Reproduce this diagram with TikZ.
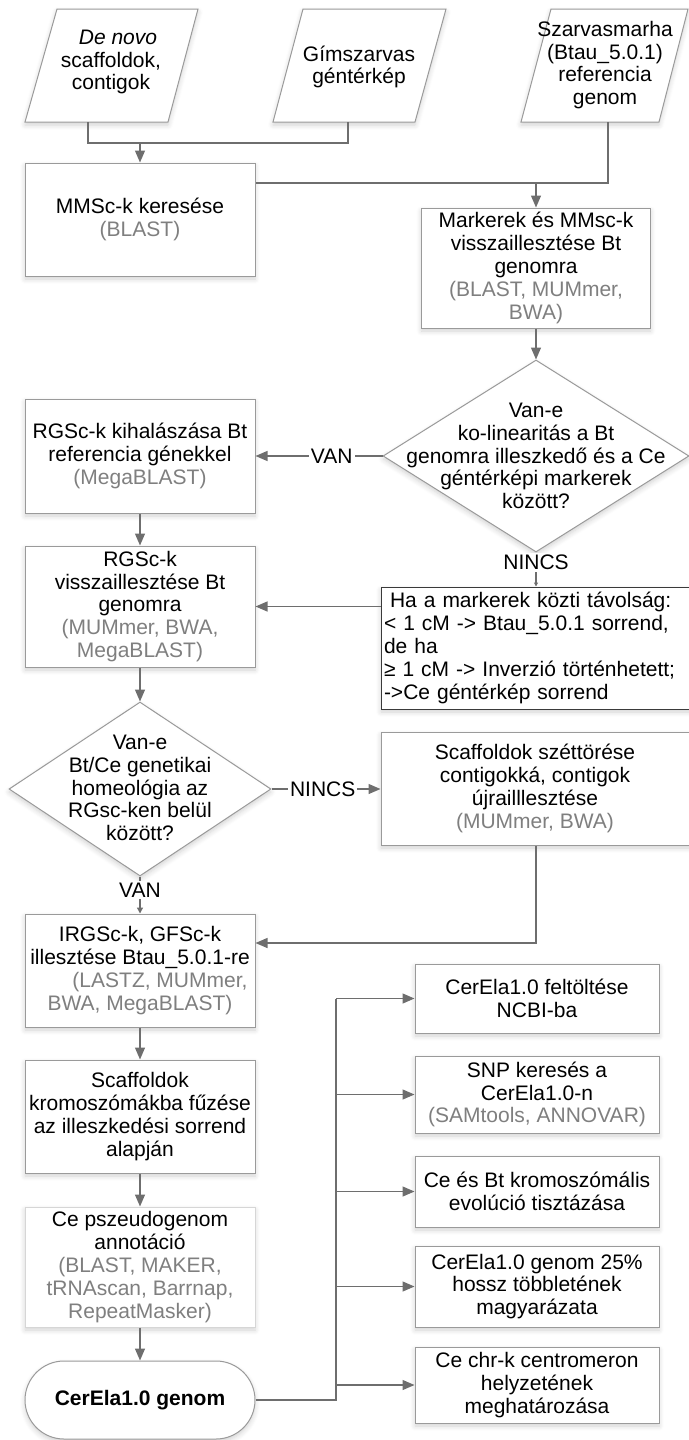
\documentclass[tikz,border=0pt]{standalone}
\usepackage{fontspec}
\setmainfont{Liberation Sans}
\usetikzlibrary{shapes.geometric,arrows.meta,shadows.blur}
\definecolor{linecol}{HTML}{6E6E6E}
\definecolor{edgecol}{HTML}{9A9A9A}
\definecolor{toolcol}{HTML}{7F7F7F}
\definecolor{notecol}{HTML}{3A3A3A}
\definecolor{faintcol}{HTML}{D6D6D6}
\newcommand{\tool}[1]{\textcolor{toolcol}{#1}}
\begin{document}
\begin{tikzpicture}[x=0.5pt,y=-0.5pt,
  basefont/.style={font=\fontsize{10.5}{11.4}\selectfont},
  basefont,
  softshadow/.style={blur shadow={shadow xshift=0pt,shadow yshift=-1.5pt,
      shadow blur radius=2.5pt,shadow opacity=18,shadow blur steps=6}},
  box/.style={draw=edgecol,line width=0.5pt,fill=white,softshadow,
      align=center,inner sep=2pt},
  wh/.style 2 args={minimum width=#1*0.5pt,minimum height=#2*0.5pt},
  dia/.style={diamond,draw=edgecol,line width=0.5pt,fill=white,softshadow,inner sep=0pt},
  para/.style={draw=edgecol,line width=0.5pt,fill=white,softshadow},
  ln/.style={draw=linecol,line width=0.65pt},
  arr/.style={ln,-{Triangle[length=6pt,width=5pt]}},
  tiny/.style={-{Triangle[length=2pt,width=2pt]}},
  lab/.style={fill=white,inner sep=1pt,text=black},
]
\useasboundingbox (0,0) rectangle (689,1440);

% input data
\path[para] (57,9) -- (198,9) -- (168,122) -- (25,122) -- cycle;
\path[para] (303,9) -- (446,9) -- (415,122) -- (273,122) -- cycle;
\path[para] (551,9) -- (688,9) -- (659,122) -- (521,122) -- cycle;
\node[align=center] (p1) at (111,62) {\hspace*{7pt}\textit{De novo}\\scaffoldok,\\contigok};
\node[align=center] (p2) at (359,67) {Gímszarvas\\géntérkép};
\node[align=center] (p3) at (605,65) {Szarvasmarha\\(Btau\_5.0.1)\\referencia\\genom};
\coordinate (p1b) at (88,122);
\coordinate (p2b) at (348,122);
\coordinate (p3b) at (608,122);

% left column
\node[box,wh={230}{113}] (mmsc) at (140,219.5) {MMSc-k keresése\\\tool{(BLAST)}};
\node[box,wh={230}{114}] (rg1) at (140,456) {RGSc-k kihalászása Bt\\referencia génekkel\\\tool{(MegaBLAST)}};
\node[box,wh={230}{121}] (rg2) at (140,606.5) {RGSc-k\\visszaillesztése Bt\\genomra\\\tool{(MUMmer, BWA,}\\\tool{MegaBLAST)}};
\node[dia,wh={262}{174}] (d2) at (140,789) {};
\node[align=center] (d2t) at (140,788) {Van-e\\Bt/Ce genetikai\\homeológia az\\RGsc-ken belül\\között?};
\node[box,wh={230}{113}] (irg) at (140,970.5) {IRGSc-k, GFSc-k\\illesztése Btau\_5.0.1-re\\\hspace*{20pt}\tool{(LASTZ, MUMmer,}\\\tool{BWA, MegaBLAST)}};
\node[box,wh={230}{113}] (kr) at (140,1116.5) {Scaffoldok\\kromoszómákba fűzése\\az illeszkedési sorrend\\alapján};
\node[box,draw=faintcol,wh={230}{120}] (ps) at (140,1267) {Ce pszeudogenom\\annotáció\\\tool{(BLAST, MAKER,}\\\tool{tRNAscan, Barrnap,}\\\tool{RepeatMasker)}};
\node[box,rounded corners=19.5pt,wh={230}{78},font=\fontsize{10.5}{11.4}\selectfont\bfseries] (term) at (140,1400) {CerEla1.0 genom};

% right column (the two wide boxes run past the right margin)
\node[box,wh={229}{120}] (mark) at (536,268) {Markerek és MMsc-k\\visszaillesztése Bt\\genomra\\\tool{(BLAST, MUMmer,}\\\tool{BWA)}};
\node[dia,wh={306}{192}] (d1) at (536,456) {};
\node[align=center] (d1t) at (536,456) {Van-e\\ko-linearitás a Bt\\genomra illeszkedő és a Ce\\géntérképi markerek\\között?};
\node[box,draw=notecol,align=left,text width=166.5pt,inner xsep=1.5pt,wh={339}{122}] (ha) at (550.5,648)
  {\hspace*{3pt}Ha a markerek közti távolság:\\< 1 cM -> Btau\_5.0.1 sorrend,\\de ha\\≥ 1 cM -> Inverzió történhetett;\\->Ce géntérkép sorrend};
\node[box,wh={339}{113}] (sc) at (550.5,788.5) {};
\node[align=center] (sct) at (535,788.5) {Scaffoldok széttörése\\contigokká, contigok\\újrailllesztése\\\tool{(MUMmer, BWA)}};

% results
\node[box,wh={244}{69}] (r1) at (537,998.5) {CerEla1.0 feltöltése\\NCBI-ba};
\node[box,wh={244}{77}] (r2) at (537,1094.5) {SNP keresés a\\CerEla1.0-n\\\tool{(SAMtools, ANNOVAR)}};
\node[box,wh={244}{71}] (r3) at (537,1191.5) {Ce és Bt kromoszómális\\evolúció tisztázása};
\node[box,wh={244}{81}] (r4) at (537,1286.5) {CerEla1.0 genom 25\%\\hossz többletének\\magyarázata};
\node[box,wh={244}{76}] (r5) at (537,1385) {Ce chr-k centromeron\\helyzetének\\meghatározása};

% connectors
\coordinate (j1) at (88,143);
\coordinate (j2) at (348,143);
\coordinate (j3) at (608,183);
\coordinate (j4) at (536,943);
\coordinate (trunk) at (336,1400);
\draw[ln] (p1b) -- (j1) -- (j2) -- (p2b);
\draw[arr] (mmsc.north |- j1) -- (mmsc.north);
\draw[ln] (p3b) -- (j3) -- (mmsc.east |- j3);
\draw[arr] (mark.north |- j3) -- (mark.north);
\draw[arr] (mark.south) -- (d1.north);
\draw[arr] (d1.west) -- node[lab,pos=0.4]{VAN} (rg1.east);
\draw[arr] (rg1.south) -- (rg2.north);
\draw[ln,tiny] (d1.south) -- node[lab,pos=0.3]{NINCS} (d1.south |- ha.north);
\draw[arr] (rg2.east -| ha.west) -- (rg2.east);
\draw[arr] (rg2.south) -- (d2.north);
\draw[arr] (d2.east) -- node[lab,pos=0.47]{NINCS} (sc.west |- d2.east);
\draw[ln,-{Triangle[length=3pt,width=3pt]}] (d2.south) -- node[lab,pos=0.37]{VAN} (irg.north);
\draw[arr] (j4 |- sc.south) -- (j4) -- (irg.east |- j4);
\draw[arr] (irg.south) -- (kr.north);
\draw[arr] (kr.south) -- (ps.north);
\draw[arr] (ps.south) -- (term.north);
\draw[ln] (term.east) -- (trunk) -- (trunk |- r1.west);
\foreach \b in {r1,r2,r3,r4,r5} \draw[arr] (trunk |- \b.west) -- (\b.west);
\end{tikzpicture}
\end{document}
